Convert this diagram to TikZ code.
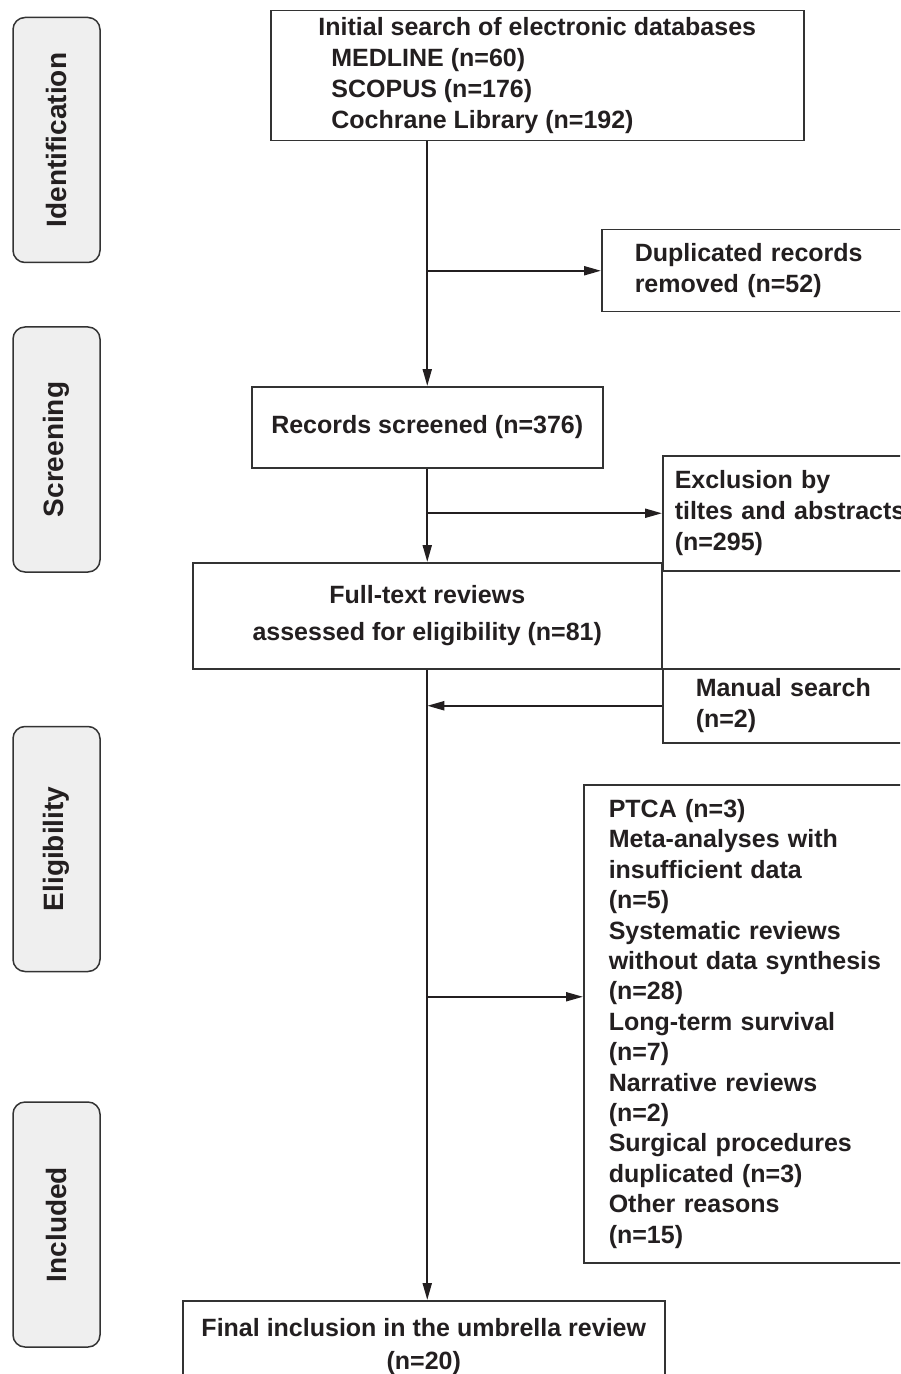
\documentclass[tikz,border=0pt]{standalone}
\usepackage{fontspec}
\setmainfont{Liberation Sans}
\usetikzlibrary{arrows.meta}
\definecolor{inkgray}{HTML}{231F20}
\definecolor{framegray}{HTML}{333333}
\definecolor{phasefill}{HTML}{EFEFEF}
\begin{document}
\begin{tikzpicture}[x=1pt, y=-1pt]
    \tikzset{
        flowbox/.style = {
            draw = framegray, line width = 0.75pt, inner ysep = 2pt,
            text = inkgray, font = \bfseries\fontsize{12.5}{15.5}\selectfont},
        sidebox/.style = {flowbox, anchor = north west, align = left},
        phasebox/.style = {
            draw = framegray, line width = 0.75pt, fill = phasefill,
            rounded corners = 6pt, rotate = 90,
            minimum width = 122.5pt, minimum height = 43.5pt,
            text = inkgray, font = \bfseries\fontsize{14}{16}\selectfont},
        flowarrow/.style = {
            draw = inkgray, line width = 1pt,
            -{Triangle[length = 8.5pt, width = 4.5pt]}}
    }

    \useasboundingbox (0, 0) rectangle (450, 687);
    \clip (0, 0) rectangle (450, 687);

    \foreach \name/\ypos/\phase in {ident/70/Identification, screen/224.75/Screening,
        elig/424.5/Eligibility, incl/612.25/Included}{
        \node[phasebox] (\name) at (28.25, \ypos) {\phase};
    }

    \node[flowbox, anchor = north west, align = left,
        minimum width = 266.5pt, minimum height = 65pt] (search) at (135, 5)
        {Initial search of electronic databases\\
        \hspace*{6.5pt}MEDLINE (n=60)\\
        \hspace*{6.5pt}SCOPUS (n=176)\\
        \hspace*{6.5pt}Cochrane Library (n=192)};

    \node[sidebox, inner xsep = 16.5pt, text width = 150pt,
        minimum height = 41pt] (dup) at (300.5, 114.5)
        {Duplicated records\\removed (n=52)};

    \node[flowbox, anchor = north west,
        minimum width = 175.5pt, minimum height = 40.5pt] (records) at (125.5, 193)
        {Records screened (n=376)};

    \node[sidebox, inner xsep = 6pt, text width = 150pt,
        minimum height = 57.5pt] (excl) at (331, 227.5)
        {Exclusion by\\tiltes and abstracts\\(n=295)};

    \node[flowbox, anchor = north west, align = center,
        font = \bfseries\fontsize{12.5}{18.5}\selectfont,
        minimum width = 234.5pt, minimum height = 53pt] (fulltext) at (96, 281)
        {Full-text reviews\\assessed for eligibility (n=81)};

    \node[sidebox, inner xsep = 16.5pt, text width = 100pt,
        minimum height = 37pt] (manual) at (331, 334)
        {Manual search\\(n=2)};

    \node[sidebox, inner xsep = 12.5pt, text width = 160pt,
        font = \bfseries\fontsize{12.5}{15.2}\selectfont,
        minimum height = 239pt] (reasons) at (291.5, 392)
        {PTCA (n=3)\\Meta-analyses with\\insufficient data\\(n=5)\\
        Systematic reviews\\without data synthesis\\(n=28)\\
        Long-term survival\\(n=7)\\Narrative reviews\\(n=2)\\
        Surgical procedures\\duplicated (n=3)\\Other reasons\\(n=15)};

    \node[flowbox, anchor = north west, align = center,
        font = \bfseries\fontsize{12.5}{16.5}\selectfont,
        minimum width = 241pt, minimum height = 45.5pt] (final) at (91, 650)
        {Final inclusion in the umbrella review\\(n=20)};

    \coordinate (reasonsin) at ([yshift = 13.5pt]reasons.west);

    \draw[flowarrow] (records.north |- search.south) -- (records.north);
    \draw[flowarrow] (dup.west -| records.north) -- (dup.west);
    \draw[flowarrow] (records.south) -- (fulltext.north);
    \draw[flowarrow] (excl.west -| records.south) -- (excl.west);
    \draw[flowarrow] (fulltext.south) -- (fulltext.south |- final.north);
    \draw[flowarrow] (manual.west) -- (manual.west -| fulltext.south);
    \draw[flowarrow] (reasonsin -| fulltext.south) -- (reasonsin);
\end{tikzpicture}
\end{document}
